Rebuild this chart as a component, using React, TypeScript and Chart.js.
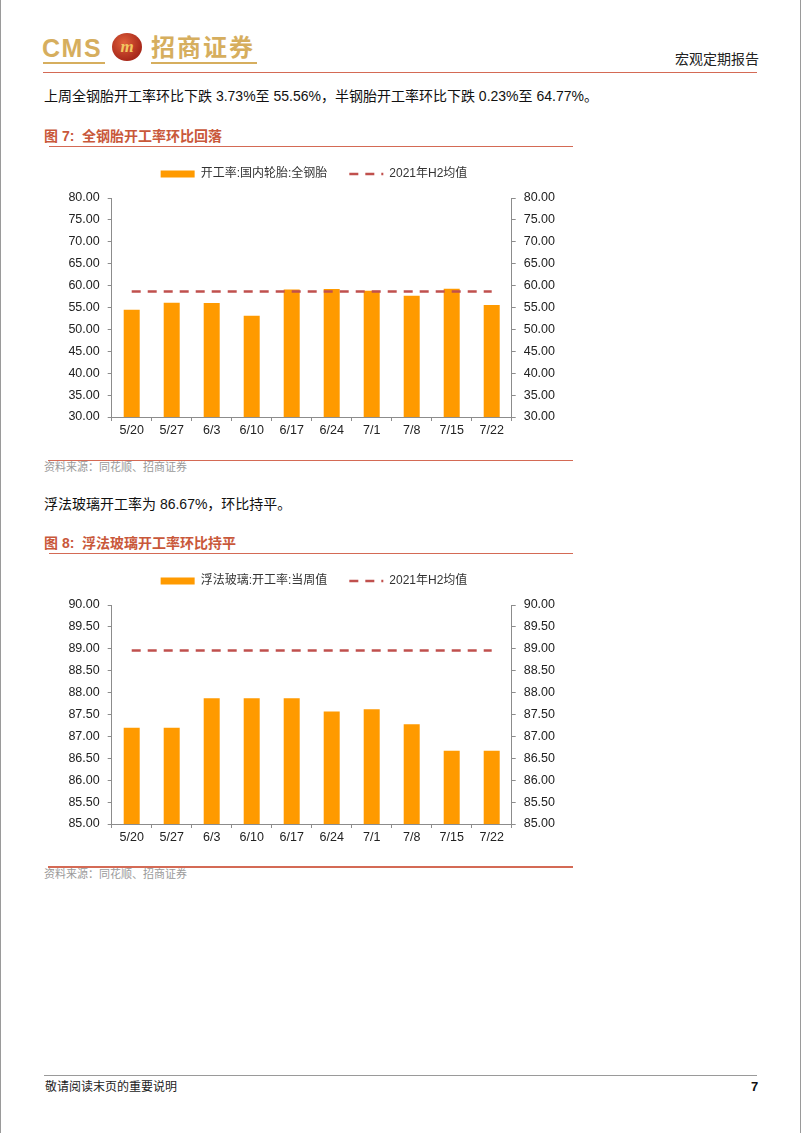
import React, { useEffect, useRef } from "react";
import { Chart, registerables } from "chart.js";

Chart.register(...registerables);

// ---------- data ----------
const categories = ["5/20", "5/27", "6/3", "6/10", "6/17", "6/24", "7/1", "7/8", "7/15", "7/22"];

const tyreLabel = "开工率:国内轮胎:全钢胎";
const tyreRates = [54.5, 56.1, 56.0, 53.1, 59.1, 59.2, 58.8, 57.7, 59.29, 55.56];
const tyreAvgLabel = "2021年H2均值";
const tyreAvg = [58.66, 58.66, 58.66, 58.66, 58.66, 58.66, 58.66, 58.66, 58.66, 58.66];
const tyreAxis = { min: 30, max: 80, step: 5 };

const glassLabel = "浮法玻璃:开工率:当周值";
const glassRates = [87.2, 87.2, 87.87, 87.87, 87.87, 87.57, 87.62, 87.28, 86.67, 86.67];
const glassAvgLabel = "2021年H2均值";
const glassAvg = [88.96, 88.96, 88.96, 88.96, 88.96, 88.96, 88.96, 88.96, 88.96, 88.96];
const glassAxis = { min: 85, max: 90, step: 0.5 };

// ---------- styles ----------
const BAR = "#FF9A00";
const AVG = "#C0504D";
const AXIS = "#8C8C8C";
const TITLE = "#C9583A";
const RULE = "#D46A55";
const GOLD = "#D6AE5E";
const SANS = "'Liberation Sans', 'Noto Sans CJK SC', sans-serif";

const legendGap = {
  id: "legendGap",
  beforeInit(chart: any) {
    const legend = chart.legend;
    if (!legend) return;
    const fit = legend.fit;
    legend.fit = function () {
      fit.call(this);
      this.height += 8;
    };
  },
};

type ChartProps = {
  top: number;
  barLabel: string;
  bars: number[];
  avgLabel: string;
  avg: number[];
  axis: { min: number; max: number; step: number };
};

function BarAvgChart({ top, barLabel, bars, avgLabel, avg, axis }: ChartProps) {
  const ref = useRef<HTMLCanvasElement>(null);
  useEffect(() => {
    if (!ref.current) return;
    const tickOpts = {
      color: "#222",
      font: { size: 12.5, family: SANS },
      padding: 8,
      stepSize: axis.step,
      callback: (v: any) => Number(v).toFixed(2),
    };
    const gridOpts = {
      display: true,
      drawOnChartArea: false,
      drawTicks: true,
      tickLength: 4,
      color: AXIS,
    };
    const chart = new Chart(ref.current, {
      type: "bar",
      data: {
        labels: categories,
        datasets: [
          {
            type: "bar",
            label: barLabel,
            data: bars,
            backgroundColor: BAR,
            borderWidth: 0,
            categoryPercentage: 1,
            barPercentage: 0.4,
            order: 1,
            yAxisID: "y",
          } as any,
          {
            type: "line",
            label: avgLabel,
            data: avg,
            borderColor: AVG,
            borderWidth: 2.5,
            borderDash: [9, 7],
            pointRadius: 0,
            fill: false,
            order: 0,
            yAxisID: "y",
          } as any,
        ],
      },
      options: {
        animation: false,
        responsive: false,
        maintainAspectRatio: false,
        layout: { padding: { top: 6, left: 0, right: 0, bottom: 0 } },
        plugins: {
          tooltip: { enabled: false },
          legend: {
            position: "top",
            labels: {
              usePointStyle: true,
              pointStyleWidth: 34,
              boxHeight: 7,
              padding: 22,
              color: "#333",
              font: { size: 12, family: SANS },
              generateLabels: () => [
                {
                  text: barLabel,
                  fillStyle: BAR,
                  strokeStyle: BAR,
                  lineWidth: 0,
                  pointStyle: "rect",
                  datasetIndex: 0,
                  fontColor: "#333",
                } as any,
                {
                  text: avgLabel,
                  fillStyle: "rgba(0,0,0,0)",
                  strokeStyle: AVG,
                  lineWidth: 2.5,
                  lineDash: [9, 7],
                  pointStyle: "line",
                  datasetIndex: 1,
                  fontColor: "#333",
                } as any,
              ],
            },
          },
        },
        scales: {
          x: {
            offset: true,
            grid: { ...gridOpts, offset: true },
            border: { display: true, color: AXIS, width: 1 },
            ticks: { color: "#222", font: { size: 12.5, family: SANS }, padding: 2, maxRotation: 0, autoSkip: false },
            afterFit: (s: any) => {
              s.height = 23;
            },
          },
          y: {
            position: "left",
            min: axis.min,
            max: axis.max,
            grid: gridOpts,
            border: { display: true, color: AXIS, width: 1 },
            ticks: tickOpts,
            afterFit: (s: any) => {
              s.width = 61.7;
            },
          },
          y1: {
            position: "right",
            min: axis.min,
            max: axis.max,
            grid: gridOpts,
            border: { display: true, color: AXIS, width: 1 },
            ticks: tickOpts,
            afterFit: (s: any) => {
              s.width = 66.3;
            },
          },
        },
      } as any,
      plugins: [legendGap],
    });
    return () => chart.destroy();
  }, []);
  return (
    <canvas
      ref={ref}
      width={528}
      height={300}
      style={{ position: "absolute", left: 50, top, width: 528, height: 300 }}
    />
  );
}

function Txt(props: { x: number; y: number; size: number; color?: string; children: any; weight?: any; family?: string; spacing?: number }) {
  return (
    <div
      style={{
        position: "absolute",
        left: props.x,
        top: props.y,
        fontSize: props.size,
        lineHeight: 1,
        color: props.color || "#111",
        fontWeight: props.weight || "normal",
        fontFamily: props.family || SANS,
        letterSpacing: props.spacing || 0,
        whiteSpace: "nowrap",
      }}
    >
      {props.children}
    </div>
  );
}

function Rule(props: { x: number; y: number; w: number; color: string; h?: number }) {
  return (
    <div
      style={{
        position: "absolute",
        left: props.x,
        top: props.y,
        width: props.w,
        height: props.h || 1.5,
        background: props.color,
      }}
    />
  );
}

export default function App() {
  return (
    <div
      style={{
        position: "absolute",
        left: 0,
        top: 0,
        width: 802,
        height: 1133,
        background: "#fff",
        overflow: "hidden",
        fontFamily: SANS,
      }}
    >
      {/* page borders */}
      <div style={{ position: "absolute", left: 0, top: 0, width: 1, height: 1133, background: "#9a9a9a" }} />
      <div style={{ position: "absolute", left: 800, top: 0, width: 1, height: 1133, background: "#9a9a9a" }} />

      {/* header */}
      <Txt x={42} y={36} size={25} color={GOLD} weight="bold" spacing={1.5}>CMS</Txt>
      <Rule x={43} y={62} w={62} color={GOLD} />
      <div
        style={{
          position: "absolute",
          left: 112,
          top: 33,
          width: 30,
          height: 28,
          borderRadius: "50%",
          background: "radial-gradient(circle at 40% 35%, #E0603A, #A8281A 70%)",
          color: "#F2C760",
          fontSize: 17,
          fontWeight: "bold",
          fontStyle: "italic",
          textAlign: "center",
          lineHeight: "27px",
          fontFamily: "'Liberation Serif', serif",
        }}
      >
        m
      </div>
      <Txt x={151} y={34} size={24} color={GOLD} weight="bold" spacing={2} family="'Noto Sans CJK SC', sans-serif">招商证券</Txt>
      <Rule x={151} y={62} w={106} color={GOLD} />
      <Txt x={675} y={51} size={14} color="#222" family="'Noto Sans CJK SC', sans-serif">宏观定期报告</Txt>
      <Rule x={43} y={71.5} w={714} color={RULE} h={1.2} />

      {/* paragraph 1 */}
      <Txt x={44} y={89} size={14} color="#111">
        上周全钢胎开工率环比下跌 3.73%至 55.56%，半钢胎开工率环比下跌 0.23%至 64.77%。
      </Txt>

      {/* figure 7 */}
      <Txt x={44} y={129} size={14} color={TITLE} weight="bold">图 7:&nbsp; 全钢胎开工率环比回落</Txt>
      <Rule x={49} y={145.5} w={524} color={RULE} />
      <BarAvgChart top={140} barLabel={tyreLabel} bars={tyreRates} avgLabel={tyreAvgLabel} avg={tyreAvg} axis={tyreAxis} />
      <Rule x={48} y={459.5} w={525} color={RULE} />
      <Txt x={44} y={462} size={11} color="#9a9a9a">资料来源：同花顺、招商证券</Txt>

      {/* paragraph 2 */}
      <Txt x={44} y={497} size={14} color="#111">浮法玻璃开工率为 86.67%，环比持平。</Txt>

      {/* figure 8 */}
      <Txt x={44} y={536} size={14} color={TITLE} weight="bold">图 8:&nbsp; 浮法玻璃开工率环比持平</Txt>
      <Rule x={49} y={552.5} w={524} color={RULE} />
      <BarAvgChart top={547} barLabel={glassLabel} bars={glassRates} avgLabel={glassAvgLabel} avg={glassAvg} axis={glassAxis} />
      <Rule x={48} y={866} w={525} color={RULE} />
      <Txt x={44} y={869} size={11} color="#9a9a9a">资料来源：同花顺、招商证券</Txt>

      {/* footer */}
      <Rule x={44} y={1075} w={713} color="#9a9a9a" h={1} />
      <Txt x={45} y={1081} size={12} color="#222">敬请阅读末页的重要说明</Txt>
      <Txt x={751} y={1080} size={13} color="#111" weight="bold">7</Txt>
    </div>
  );
}
